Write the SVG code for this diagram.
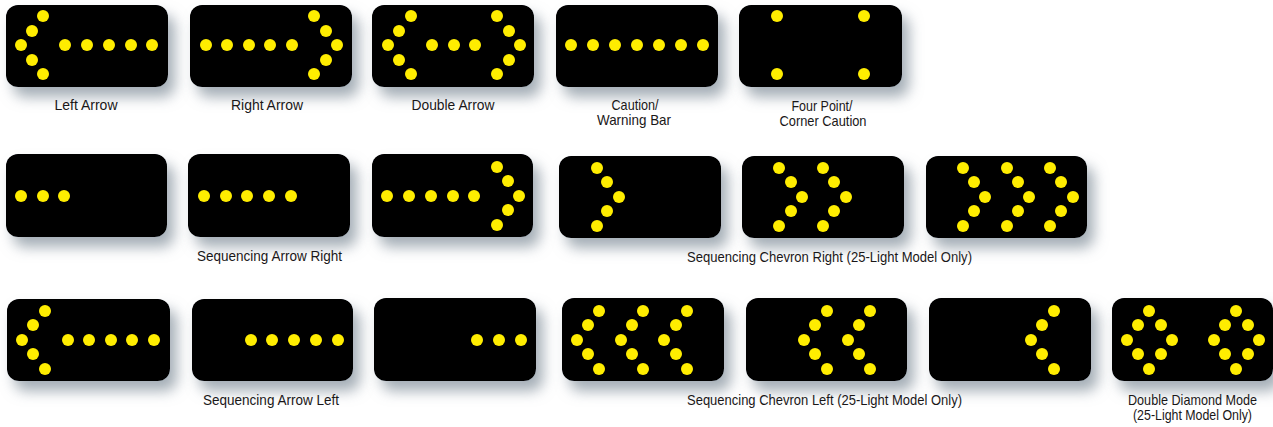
<svg xmlns="http://www.w3.org/2000/svg" width="1273" height="427" viewBox="0 0 1273 427">
<defs>
<filter id="sh" x="-20%" y="-20%" width="150%" height="170%">
<feOffset in="SourceAlpha" dx="7" dy="10" result="o"/>
<feGaussianBlur in="o" stdDeviation="7" result="b"/>
<feFlood flood-color="#7d8b97" flood-opacity="0.7"/>
<feComposite in2="b" operator="in" result="s"/>
<feMerge><feMergeNode in="s"/><feMergeNode in="SourceGraphic"/></feMerge>
</filter>
</defs>
<style>
.b{fill:#000;filter:url(#sh)}
.d{fill:#ffed00}
.t{font-family:"Liberation Sans Narrow","Liberation Sans",Arial,sans-serif;font-size:15px;fill:#1a1718;text-anchor:middle}
</style>
<rect width="1273" height="427" fill="#fff"/>

<!-- Row 1 -->
<g id="left-arrow">
<rect class="b" x="6" y="5" width="162" height="82" rx="12"/>
<circle class="d" cx="21" cy="45" r="6"/><circle class="d" cx="32" cy="31" r="6"/><circle class="d" cx="43" cy="16" r="6"/><circle class="d" cx="32" cy="60" r="6"/><circle class="d" cx="43" cy="74" r="6"/>
<circle class="d" cx="65" cy="45" r="6"/><circle class="d" cx="87" cy="45" r="6"/><circle class="d" cx="109" cy="45" r="6"/><circle class="d" cx="131" cy="45" r="6"/><circle class="d" cx="152" cy="45" r="6"/>
<text class="t" x="86" y="110" textLength="63" lengthAdjust="spacingAndGlyphs">Left Arrow</text>
</g>
<g id="right-arrow">
<rect class="b" x="190" y="5" width="162" height="82" rx="12"/>
<circle class="d" cx="206" cy="45" r="6"/><circle class="d" cx="227" cy="45" r="6"/><circle class="d" cx="249" cy="45" r="6"/><circle class="d" cx="270" cy="45" r="6"/><circle class="d" cx="292" cy="45" r="6"/>
<circle class="d" cx="337" cy="45" r="6"/><circle class="d" cx="326" cy="31" r="6"/><circle class="d" cx="314" cy="16" r="6"/><circle class="d" cx="326" cy="60" r="6"/><circle class="d" cx="314" cy="74" r="6"/>
<text class="t" x="267" y="110" textLength="72" lengthAdjust="spacingAndGlyphs">Right Arrow</text>
</g>
<g id="double-arrow">
<rect class="b" x="372" y="5" width="162" height="82" rx="12"/>
<circle class="d" cx="388" cy="45" r="6"/><circle class="d" cx="399" cy="31" r="6"/><circle class="d" cx="411" cy="16" r="6"/><circle class="d" cx="399" cy="60" r="6"/><circle class="d" cx="411" cy="74" r="6"/>
<circle class="d" cx="432" cy="45" r="6"/><circle class="d" cx="454" cy="45" r="6"/><circle class="d" cx="475" cy="45" r="6"/>
<circle class="d" cx="520" cy="45" r="6"/><circle class="d" cx="509" cy="31" r="6"/><circle class="d" cx="497" cy="16" r="6"/><circle class="d" cx="509" cy="60" r="6"/><circle class="d" cx="497" cy="74" r="6"/>
<text class="t" x="453" y="110" textLength="83" lengthAdjust="spacingAndGlyphs">Double Arrow</text>
</g>
<g id="caution-bar">
<rect class="b" x="556" y="5" width="162" height="82" rx="12"/>
<circle class="d" cx="571" cy="45" r="6"/><circle class="d" cx="593" cy="45" r="6"/><circle class="d" cx="615" cy="45" r="6"/><circle class="d" cx="637" cy="45" r="6"/><circle class="d" cx="659" cy="45" r="6"/><circle class="d" cx="681" cy="45" r="6"/><circle class="d" cx="703" cy="45" r="6"/>
<text class="t" x="635" y="110" textLength="47" lengthAdjust="spacingAndGlyphs">Caution/</text>
<text class="t" x="634" y="125" textLength="74" lengthAdjust="spacingAndGlyphs">Warning Bar</text>
</g>
<g id="four-point">
<rect class="b" x="739" y="5" width="163" height="82" rx="12"/>
<circle class="d" cx="777" cy="16" r="6"/><circle class="d" cx="864" cy="16" r="6"/><circle class="d" cx="777" cy="74" r="6"/><circle class="d" cx="864" cy="74" r="6"/>
<text class="t" x="822" y="111" textLength="61" lengthAdjust="spacingAndGlyphs">Four Point/</text>
<text class="t" x="823" y="126" textLength="87" lengthAdjust="spacingAndGlyphs">Corner Caution</text>
</g>

<!-- Row 2 -->
<g id="seq-arrow-right-1">
<rect class="b" x="6" y="154" width="161" height="83" rx="12"/>
<circle class="d" cx="21" cy="196" r="6"/><circle class="d" cx="43" cy="196" r="6"/><circle class="d" cx="64" cy="196" r="6"/>
</g>
<g id="seq-arrow-right-2">
<rect class="b" x="188" y="154" width="162" height="83" rx="12"/>
<circle class="d" cx="204" cy="196" r="6"/><circle class="d" cx="226" cy="196" r="6"/><circle class="d" cx="247" cy="196" r="6"/><circle class="d" cx="269" cy="196" r="6"/><circle class="d" cx="291" cy="196" r="6"/>
<text class="t" x="269.5" y="261" textLength="145" lengthAdjust="spacingAndGlyphs">Sequencing Arrow Right</text>
</g>
<g id="seq-arrow-right-3">
<rect class="b" x="372" y="154" width="161" height="83" rx="12"/>
<circle class="d" cx="387" cy="196" r="6"/><circle class="d" cx="409" cy="196" r="6"/><circle class="d" cx="431" cy="196" r="6"/><circle class="d" cx="453" cy="196" r="6"/><circle class="d" cx="474" cy="196" r="6"/>
<circle class="d" cx="497" cy="167" r="6"/><circle class="d" cx="508" cy="181" r="6"/><circle class="d" cx="519" cy="196" r="6"/><circle class="d" cx="508" cy="210" r="6"/><circle class="d" cx="497" cy="225" r="6"/>
</g>
<g id="seq-chevron-right-1">
<rect class="b" x="559" y="156" width="162" height="82" rx="12"/>
<circle class="d" cx="597" cy="168" r="6"/><circle class="d" cx="607" cy="182" r="6"/><circle class="d" cx="619" cy="197" r="6"/><circle class="d" cx="607" cy="211" r="6"/><circle class="d" cx="597" cy="226" r="6"/>
</g>
<g id="seq-chevron-right-2">
<rect class="b" x="742" y="156" width="162" height="82" rx="12"/>
<circle class="d" cx="779" cy="168" r="6"/><circle class="d" cx="791" cy="182" r="6"/><circle class="d" cx="802" cy="197" r="6"/><circle class="d" cx="791" cy="211" r="6"/><circle class="d" cx="779" cy="226" r="6"/>
<circle class="d" cx="823" cy="168" r="6"/><circle class="d" cx="834" cy="182" r="6"/><circle class="d" cx="846" cy="197" r="6"/><circle class="d" cx="834" cy="211" r="6"/><circle class="d" cx="823" cy="226" r="6"/>
<text class="t" x="829.5" y="262" textLength="285" lengthAdjust="spacingAndGlyphs">Sequencing Chevron Right (25-Light Model Only)</text>
</g>
<g id="seq-chevron-right-3">
<rect class="b" x="926" y="156" width="161" height="82" rx="12"/>
<circle class="d" cx="963" cy="168" r="6"/><circle class="d" cx="974" cy="182" r="6"/><circle class="d" cx="985" cy="197" r="6"/><circle class="d" cx="974" cy="211" r="6"/><circle class="d" cx="963" cy="226" r="6"/>
<circle class="d" cx="1007" cy="168" r="6"/><circle class="d" cx="1018" cy="182" r="6"/><circle class="d" cx="1029" cy="197" r="6"/><circle class="d" cx="1018" cy="211" r="6"/><circle class="d" cx="1007" cy="226" r="6"/>
<circle class="d" cx="1050" cy="168" r="6"/><circle class="d" cx="1061" cy="182" r="6"/><circle class="d" cx="1073" cy="197" r="6"/><circle class="d" cx="1061" cy="211" r="6"/><circle class="d" cx="1050" cy="226" r="6"/>
</g>

<!-- Row 3 -->
<g id="seq-arrow-left-1">
<rect class="b" x="7" y="299" width="163" height="82" rx="12"/>
<circle class="d" cx="22" cy="340" r="6"/><circle class="d" cx="33" cy="325" r="6"/><circle class="d" cx="45" cy="311" r="6"/><circle class="d" cx="33" cy="354" r="6"/><circle class="d" cx="45" cy="369" r="6"/>
<circle class="d" cx="68" cy="340" r="6"/><circle class="d" cx="89" cy="340" r="6"/><circle class="d" cx="111" cy="340" r="6"/><circle class="d" cx="132" cy="340" r="6"/><circle class="d" cx="154" cy="340" r="6"/>
</g>
<g id="seq-arrow-left-2">
<rect class="b" x="192" y="299" width="161" height="82" rx="12"/>
<circle class="d" cx="251" cy="340" r="6"/><circle class="d" cx="272" cy="340" r="6"/><circle class="d" cx="294" cy="340" r="6"/><circle class="d" cx="316" cy="340" r="6"/><circle class="d" cx="338" cy="340" r="6"/>
<text class="t" x="271" y="405" textLength="136" lengthAdjust="spacingAndGlyphs">Sequencing Arrow Left</text>
</g>
<g id="seq-arrow-left-3">
<rect class="b" x="374" y="298" width="162" height="83" rx="12"/>
<circle class="d" cx="477" cy="340" r="6"/><circle class="d" cx="499" cy="340" r="6"/><circle class="d" cx="521" cy="340" r="6"/>
</g>
<g id="seq-chevron-left-1">
<rect class="b" x="562" y="298" width="162" height="83" rx="12"/>
<circle class="d" cx="599" cy="311" r="6"/><circle class="d" cx="588" cy="325" r="6"/><circle class="d" cx="577" cy="340" r="6"/><circle class="d" cx="588" cy="354" r="6"/><circle class="d" cx="599" cy="369" r="6"/>
<circle class="d" cx="643" cy="311" r="6"/><circle class="d" cx="632" cy="325" r="6"/><circle class="d" cx="621" cy="340" r="6"/><circle class="d" cx="632" cy="354" r="6"/><circle class="d" cx="643" cy="369" r="6"/>
<circle class="d" cx="687" cy="311" r="6"/><circle class="d" cx="676" cy="325" r="6"/><circle class="d" cx="664" cy="340" r="6"/><circle class="d" cx="676" cy="354" r="6"/><circle class="d" cx="687" cy="369" r="6"/>
</g>
<g id="seq-chevron-left-2">
<rect class="b" x="746" y="298" width="161" height="83" rx="12"/>
<circle class="d" cx="827" cy="311" r="6"/><circle class="d" cx="815" cy="325" r="6"/><circle class="d" cx="804" cy="340" r="6"/><circle class="d" cx="815" cy="354" r="6"/><circle class="d" cx="827" cy="369" r="6"/>
<circle class="d" cx="870" cy="311" r="6"/><circle class="d" cx="859" cy="325" r="6"/><circle class="d" cx="848" cy="340" r="6"/><circle class="d" cx="859" cy="354" r="6"/><circle class="d" cx="870" cy="369" r="6"/>
<text class="t" x="824.5" y="405" textLength="275" lengthAdjust="spacingAndGlyphs">Sequencing Chevron Left (25-Light Model Only)</text>
</g>
<g id="seq-chevron-left-3">
<rect class="b" x="929" y="298" width="162" height="83" rx="12"/>
<circle class="d" cx="1054" cy="311" r="6"/><circle class="d" cx="1042" cy="325" r="6"/><circle class="d" cx="1031" cy="340" r="6"/><circle class="d" cx="1042" cy="354" r="6"/><circle class="d" cx="1054" cy="369" r="6"/>
</g>
<g id="double-diamond">
<rect class="b" x="1112" y="298" width="161" height="83" rx="12"/>
<circle class="d" cx="1149" cy="311" r="6"/><circle class="d" cx="1138" cy="325" r="6"/><circle class="d" cx="1161" cy="325" r="6"/><circle class="d" cx="1127" cy="340" r="6"/><circle class="d" cx="1172" cy="340" r="6"/><circle class="d" cx="1138" cy="354" r="6"/><circle class="d" cx="1161" cy="354" r="6"/><circle class="d" cx="1149" cy="369" r="6"/>
<circle class="d" cx="1236" cy="311" r="6"/><circle class="d" cx="1225" cy="325" r="6"/><circle class="d" cx="1248" cy="325" r="6"/><circle class="d" cx="1214" cy="340" r="6"/><circle class="d" cx="1259" cy="340" r="6"/><circle class="d" cx="1225" cy="354" r="6"/><circle class="d" cx="1248" cy="354" r="6"/><circle class="d" cx="1236" cy="369" r="6"/>
<text class="t" x="1192.5" y="405" textLength="129" lengthAdjust="spacingAndGlyphs">Double Diamond Mode</text>
<text class="t" x="1192.5" y="420" textLength="119" lengthAdjust="spacingAndGlyphs">(25-Light Model Only)</text>
</g>
<g id="connectors"/>
</svg>
